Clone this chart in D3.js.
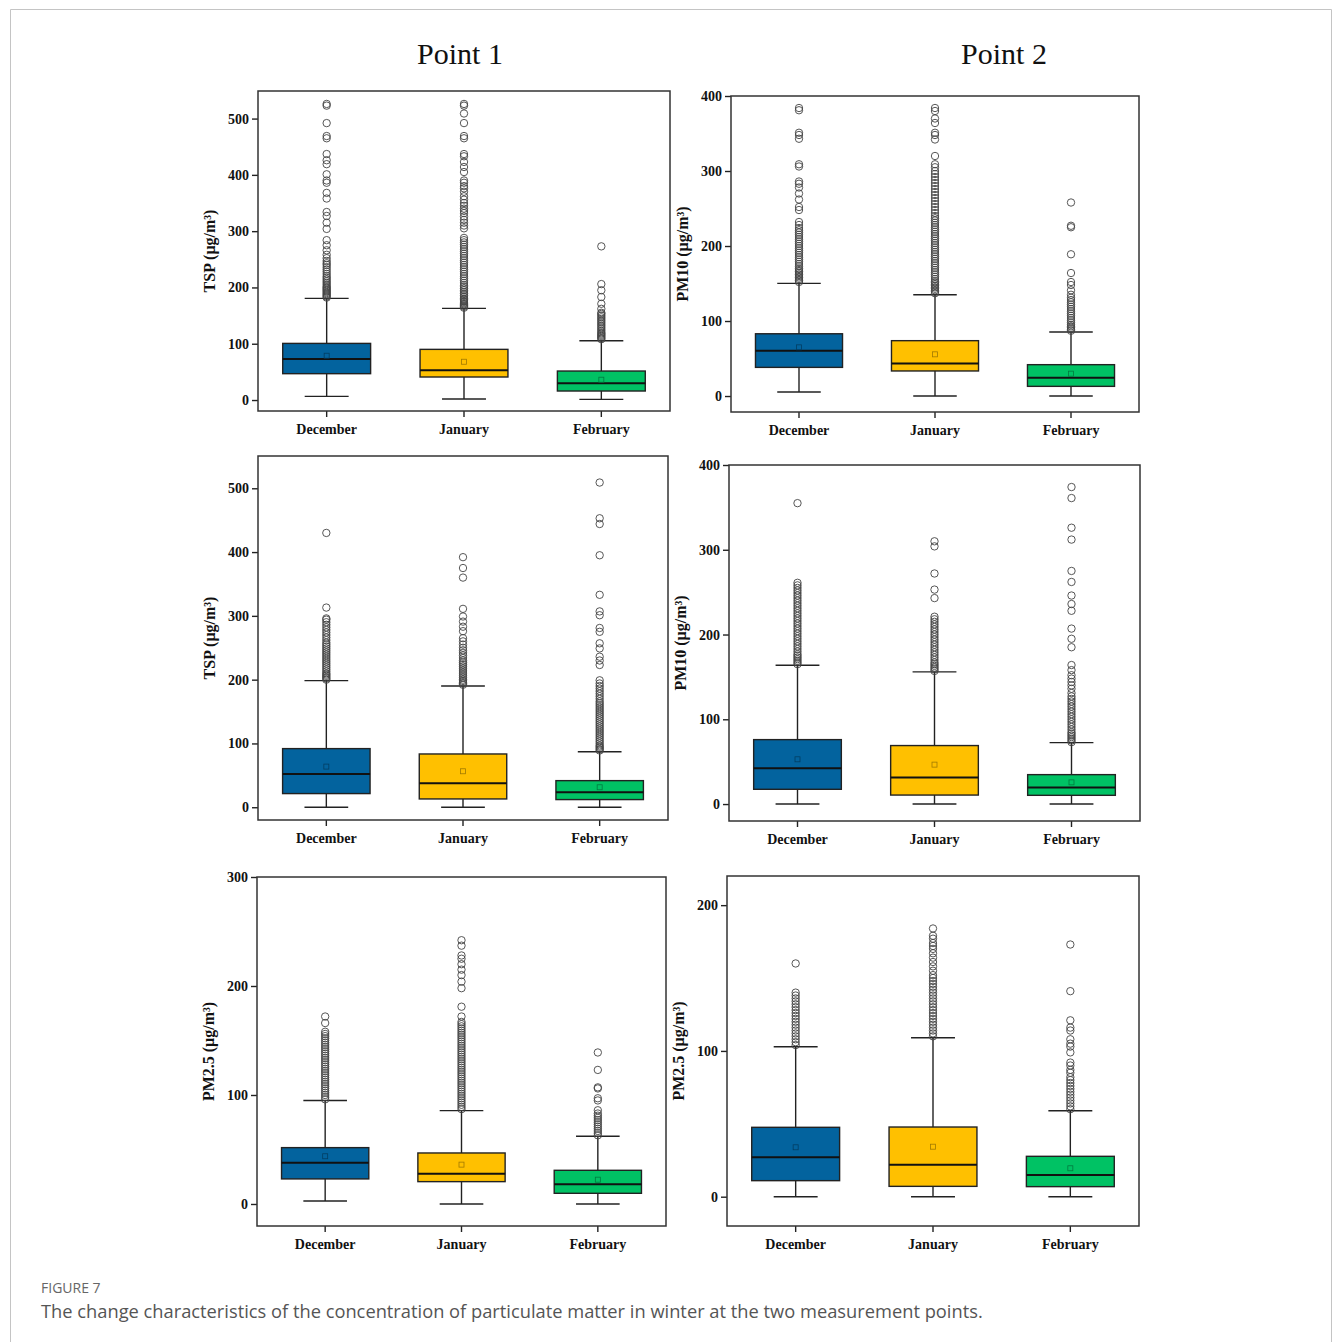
<!DOCTYPE html>
<html>
<head>
<meta charset="utf-8">
<script src="https://cdn.jsdelivr.net/npm/d3@7"></script>
<style>
  body { margin: 0; background: #fff; }
  svg { display: block; }
</style>
</head>
<body>
<script>
var W = 1333, H = 1342;

var months = ["December", "January", "February"];
var fills = ["#03639e", "#ffc000", "#00c264"];

// --- TSP, point 1 (row 1)
var tspA_lo = [6.5, 1.8, 1.2];
var tspA_q1 = [46.8, 40.9, 16];
var tspA_med = [72.8, 52.7, 29.6];
var tspA_q3 = [100.6, 90, 51.5];
var tspA_hi = [180.6, 162.8, 105.4];
var tspA_mean = [78.7, 68, 36.1];
var tspA_out = [
  [182,184,186,188,190,192,194,196,198,200,202,205,208,211,214,217,220,224,228,232,236,240,243,247,252,258,266,275,284,304,315,327,334,358,368,386,390,401,419,426,437,465,469,492,523,526],
  [164,166,168,170,172,174,176,178,180,183,186,189,192,195,198,201,204,208,212,216,220,224,228,232,236,240,244,248,252,256,260,264,268,272,276,280,284,288,305,310,315,320,326,332,336,340,345,350,356,362,370,376,380,386,390,405,414,423,433,437,465,469,492,509,523,526],
  [108,110,112,114,116,118,120,123,126,129,132,135,138,141,144,147,150,153,155,162,171,183,195,206,273]
];

// --- PM10, point 2 (row 1)
var pm10A_lo = [5.3, 0, 0];
var pm10A_q1 = [38.2, 33.4, 12.9];
var pm10A_med = [60.4, 43.5, 24.4];
var pm10A_q3 = [83, 73.8, 41.8];
var pm10A_hi = [150.2, 135, 85.3];
var pm10A_mean = [64.9, 55.6, 29.8];
var pm10A_out = [
  [152,154,156,158,160,162,164,166,168,170,173,176,179,182,185,188,191,194,197,200,203,206,209,212,215,218,221,224,228,232,248,252,262,270,278,283,286,306,309,343,348,351,381,384],
  [137,139,141,143,145,147,149,151,153,156,159,162,165,168,171,174,177,180,183,186,189,192,195,198,201,204,207,210,213,216,219,222,225,228,231,234,237,240,244,248,252,256,260,264,268,272,276,280,284,288,292,296,300,305,309,320,342,348,351,364,370,380,384],
  [87,89,91,93,95,98,101,104,107,110,113,116,119,122,125,128,131,135,141,148,152,164,189,225,227,258]
];

// --- TSP, point 1 (row 2)
var tspB_lo = [0, 0, 0];
var tspB_q1 = [21.4, 13, 12];
var tspB_med = [52.2, 37.6, 23.5];
var tspB_q3 = [91.9, 83.5, 41.7];
var tspB_hi = [198.5, 190, 87];
var tspB_mean = [63.7, 56.4, 31.3];
var tspB_out = [
  [200,202,204,206,208,210,213,216,219,222,225,228,231,234,237,240,243,246,249,252,255,258,262,266,270,274,278,282,286,290,294,296,313,430],
  [192,194,196,198,200,203,206,209,212,215,218,221,224,227,230,234,238,242,246,250,255,260,265,276,283,291,299,311,360,375,392],
  [89,91,93,95,97,100,103,106,109,112,115,118,121,124,127,130,133,136,139,142,145,148,151,154,157,160,163,166,170,174,178,182,186,190,194,199,223,230,236,249,257,275,281,301,307,333,395,444,453,509]
];

// --- PM10, point 2 (row 2)
var pm10B_lo = [0, 0, 0];
var pm10B_q1 = [17.4, 10.6, 10.3];
var pm10B_med = [42.1, 31.2, 19.4];
var pm10B_q3 = [76, 69, 34.7];
var pm10B_hi = [163.8, 155.9, 72.5];
var pm10B_mean = [52.8, 46.5, 25.6];
var pm10B_out = [
  [165,167,169,171,173,175,177,180,183,186,189,192,195,198,201,204,207,210,213,216,219,222,225,228,231,234,237,240,243,246,249,252,255,258,261,355],
  [157,159,161,163,165,167,170,173,176,179,182,185,188,191,194,197,200,203,206,209,212,215,218,221,243,253,272,304,310],
  [73,75,77,79,81,83,85,88,91,94,97,100,103,106,109,112,115,118,121,124,127,131,136,140,144,148,152,158,164,185,195,207,228,236,246,262,275,312,326,361,374]
];

// --- PM2.5, point 1
var pm25A_lo = [2.8, 0, 0];
var pm25A_q1 = [23, 20.5, 9.8];
var pm25A_med = [37.9, 27.8, 18.1];
var pm25A_q3 = [51.7, 46.8, 30.9];
var pm25A_hi = [94.9, 85.7, 62.2];
var pm25A_mean = [43.8, 36.1, 22.3];
var pm25A_out = [
  [96,98,100,102,104,106,108,110,112,114,116,118,120,122,124,126,128,130,132,134,136,138,140,142,144,146,148,150,152,154,156,158,166,172],
  [87,89,91,93,95,97,99,101,103,105,107,109,111,113,115,117,119,121,123,125,127,129,131,133,135,137,139,141,143,145,147,149,151,153,155,157,159,161,163,165,167,172,181,198,204,210,215,220,225,228,237,242],
  [63,65,67,69,71,73,75,77,79,81,83,86,95,97,106,107,123,139]
];

// --- PM2.5, point 2
var pm25B_lo = [0, 0, 0];
var pm25B_q1 = [11, 7.1, 6.9];
var pm25B_med = [27, 22, 14.9];
var pm25B_q3 = [47.6, 47.8, 27.7];
var pm25B_hi = [102.9, 109, 59];
var pm25B_mean = [33.9, 34.3, 19.5];
var pm25B_out = [
  [104,106,108,110,112,114,116,118,120,122,124,126,128,130,132,134,136,138,140,160],
  [110,112,114,116,118,120,122,124,126,128,130,132,134,136,138,140,142,144,146,148,150,152,155,158,161,164,167,170,172,174,177,179,184],
  [60,62,64,66,68,70,72,74,76,78,80,82,85,87,90,92,99,103,105,108,114,116,121,141,173]
];

var ticks550 = [0, 100, 200, 300, 400, 500];
var ticks400 = [0, 100, 200, 300, 400];
var ticks300 = [0, 100, 200, 300];
var ticks220 = [0, 100, 200];

function stats(lo, q1, med, q3, hi, mean, out) {
  return months.map(function (m, i) {
    return { month: m, i: i, lo: lo[i], q1: q1[i], med: med[i], q3: q3[i], hi: hi[i], mean: mean[i], out: out[i] };
  });
}

var panels = [
  { x0: 258, x1: 670, y0: 91, y1: 411, dom: [-19.5, 549], ticks: ticks550, label: "TSP (μg/m³)",
    data: stats(tspA_lo, tspA_q1, tspA_med, tspA_q3, tspA_hi, tspA_mean, tspA_out) },
  { x0: 731, x1: 1139, y0: 96, y1: 412, dom: [-21.3, 400], ticks: ticks400, label: "PM10 (μg/m³)",
    data: stats(pm10A_lo, pm10A_q1, pm10A_med, pm10A_q3, pm10A_hi, pm10A_mean, pm10A_out) },
  { x0: 258, x1: 668, y0: 456, y1: 820, dom: [-20, 550.6], ticks: ticks550, label: "TSP (μg/m³)",
    data: stats(tspB_lo, tspB_q1, tspB_med, tspB_q3, tspB_hi, tspB_mean, tspB_out) },
  { x0: 729, x1: 1140, y0: 465, y1: 821, dom: [-20, 400], ticks: ticks400, label: "PM10 (μg/m³)",
    data: stats(pm10B_lo, pm10B_q1, pm10B_med, pm10B_q3, pm10B_hi, pm10B_mean, pm10B_out) },
  { x0: 257, x1: 666, y0: 877, y1: 1226, dom: [-20.2, 300], ticks: ticks300, label: "PM2.5 (μg/m³)",
    data: stats(pm25A_lo, pm25A_q1, pm25A_med, pm25A_q3, pm25A_hi, pm25A_mean, pm25A_out) },
  { x0: 727, x1: 1139, y0: 876, y1: 1226, dom: [-20.1, 220], ticks: ticks220, label: "PM2.5 (μg/m³)",
    data: stats(pm25B_lo, pm25B_q1, pm25B_med, pm25B_q3, pm25B_hi, pm25B_mean, pm25B_out) }
];

var serif = "'Liberation Serif', 'Times New Roman', serif";

var svg = d3.select("body").append("svg").attr("width", W).attr("height", H);

// page frame
svg.append("path")
  .attr("d", "M10.5," + H + "V9.5H1331.5V" + H)
  .attr("fill", "none").attr("stroke", "#c4c4c4").attr("stroke-width", 1);

// column titles
svg.append("text").attr("x", 460).attr("y", 64).attr("text-anchor", "middle")
  .attr("font-family", serif).attr("font-size", "30px").attr("fill", "#111").text("Point 1");
svg.append("text").attr("x", 1004).attr("y", 64).attr("text-anchor", "middle")
  .attr("font-family", serif).attr("font-size", "30px").attr("fill", "#111").text("Point 2");

panels.forEach(function (p) {
  var x = d3.scaleBand().domain(months).range([p.x0, p.x1]).padding(0);
  var y = d3.scaleLinear().domain(p.dom).range([p.y1, p.y0]);
  var bw = x.bandwidth() * 0.64;
  var cw = x.bandwidth() * 0.32;
  var g = svg.append("g");

  // axes
  var ya = g.append("g").attr("transform", "translate(" + p.x0 + ",0)")
    .call(d3.axisLeft(y).tickValues(p.ticks).tickSize(6).tickPadding(3).tickFormat(d3.format("d")));
  var xa = g.append("g").attr("transform", "translate(0," + p.y1 + ")")
    .call(d3.axisBottom(x).tickSize(6).tickPadding(7));
  [ya, xa].forEach(function (a) {
    a.select(".domain").remove();
    a.selectAll("line").attr("stroke", "#222").attr("stroke-width", 1.4);
    a.selectAll("text").attr("font-family", serif).attr("font-size", "14px")
      .attr("font-weight", "bold").attr("fill", "#111");
  });

  g.append("text")
    .attr("transform", "translate(" + (p.x0 - 43) + "," + ((p.y0 + p.y1) / 2) + ") rotate(-90)")
    .attr("text-anchor", "middle")
    .attr("font-family", serif).attr("font-size", "16px").attr("font-weight", "bold")
    .attr("fill", "#111").text(p.label);

  var b = g.selectAll(".box").data(p.data).enter().append("g").attr("class", "box");
  var cx = function (d) { return x(d.month) + x.bandwidth() / 2; };

  b.append("line")
    .attr("x1", cx).attr("x2", cx)
    .attr("y1", function (d) { return y(d.lo); }).attr("y2", function (d) { return y(d.hi); })
    .attr("stroke", "#222").attr("stroke-width", 1.4);
  b.append("line")
    .attr("x1", function (d) { return cx(d) - cw / 2; }).attr("x2", function (d) { return cx(d) + cw / 2; })
    .attr("y1", function (d) { return y(d.hi); }).attr("y2", function (d) { return y(d.hi); })
    .attr("stroke", "#222").attr("stroke-width", 1.4);
  b.append("line")
    .attr("x1", function (d) { return cx(d) - cw / 2; }).attr("x2", function (d) { return cx(d) + cw / 2; })
    .attr("y1", function (d) { return y(d.lo); }).attr("y2", function (d) { return y(d.lo); })
    .attr("stroke", "#222").attr("stroke-width", 1.4);
  b.append("rect")
    .attr("x", function (d) { return cx(d) - bw / 2; })
    .attr("y", function (d) { return y(d.q3); })
    .attr("width", bw)
    .attr("height", function (d) { return y(d.q1) - y(d.q3); })
    .attr("fill", function (d) { return fills[d.i]; })
    .attr("stroke", "#222").attr("stroke-width", 1.4);
  b.append("line")
    .attr("x1", function (d) { return cx(d) - bw / 2; }).attr("x2", function (d) { return cx(d) + bw / 2; })
    .attr("y1", function (d) { return y(d.med); }).attr("y2", function (d) { return y(d.med); })
    .attr("stroke", "#111").attr("stroke-width", 2);
  b.append("rect")
    .attr("x", function (d) { return cx(d) - 2.5; })
    .attr("y", function (d) { return y(d.mean) - 2.5; })
    .attr("width", 5).attr("height", 5)
    .attr("fill", "none")
    .attr("stroke", function (d) { return d3.color(fills[d.i]).darker(1.3); })
    .attr("stroke-width", 0.8);

  b.each(function (d) {
    d3.select(this).selectAll("circle").data(d.out).enter().append("circle")
      .attr("cx", cx(d)).attr("cy", function (v) { return y(v); })
      .attr("r", 3.7)
      .attr("fill", "none").attr("stroke", "#444").attr("stroke-width", 0.9);
  });

  // frame
  g.append("rect")
    .attr("x", p.x0).attr("y", p.y0)
    .attr("width", p.x1 - p.x0).attr("height", p.y1 - p.y0)
    .attr("fill", "none").attr("stroke", "#333").attr("stroke-width", 1.5);
});

// caption
var sans = "'Open Sans', 'Noto Sans', sans-serif";
svg.append("text").attr("x", 41).attr("y", 1293)
  .attr("font-family", sans).attr("font-size", "14px").attr("fill", "#666")
  .text("FIGURE 7");
svg.append("text").attr("x", 41).attr("y", 1318)
  .attr("font-family", sans).attr("font-size", "18.3px").attr("fill", "#555")
  .text("The change characteristics of the concentration of particulate matter in winter at the two measurement points.");
</script>
</body>
</html>
